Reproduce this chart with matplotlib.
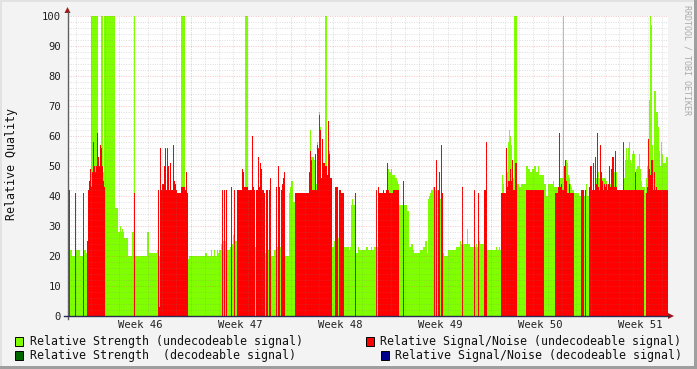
import numpy as np
import matplotlib
matplotlib.use("Agg")
import matplotlib.pyplot as plt
from matplotlib.patches import Rectangle, Polygon
from matplotlib.lines import Line2D

# ---------------- data ----------------
STEP_H = 1.68          # hours per consolidated sample
N_SAMPLES = 600        # samples over the 6-week window
FIRST_WEEK_H = 38.64   # hours from chart start to start of Week 46

# sample index where each constant segment starts
seg_start = [
    0, 2, 4, 7, 8, 12, 15, 16, 18, 19,
    20, 21, 22, 23, 24, 25, 26, 27, 28, 29,
    30, 31, 32, 33, 34, 35, 36, 37, 47, 50,
    52, 53, 54, 55, 56, 60, 64, 66, 67, 79,
    81, 89, 90, 91, 92, 93, 94, 96, 97, 98,
    99, 100, 101, 102, 103, 105, 106, 107, 108, 109,
    113, 117, 118, 119, 120, 121, 137, 139, 143, 144,
    146, 147, 149, 150, 151, 153, 154, 155, 156, 157,
    158, 159, 162, 163, 164, 165, 166, 167, 169, 174,
    175, 176, 177, 180, 184, 185, 186, 187, 188, 190,
    191, 192, 193, 194, 196, 197, 198, 200, 201, 202,
    203, 206, 208, 209, 210, 211, 212, 213, 214, 215,
    216, 217, 221, 222, 223, 225, 227, 241, 242, 243,
    244, 246, 247, 248, 249, 250, 251, 252, 253, 254,
    255, 257, 259, 260, 261, 262, 264, 266, 267, 270,
    271, 273, 276, 281, 282, 283, 284, 285, 287, 288,
    290, 291, 298, 300, 303, 304, 306, 308, 309, 310,
    311, 315, 316, 318, 319, 320, 321, 323, 324, 325,
    327, 329, 330, 331, 335, 336, 339, 341, 343, 345,
    346, 352, 355, 357, 359, 360, 361, 362, 363, 365,
    366, 367, 368, 369, 370, 371, 372, 373, 374, 375,
    376, 380, 388, 392, 393, 394, 395, 399, 400, 402,
    406, 407, 408, 409, 410, 411, 412, 416, 418, 419,
    428, 429, 431, 432, 433, 434, 435, 436, 438, 439,
    440, 441, 442, 443, 444, 445, 446, 447, 449, 451,
    453, 458, 460, 462, 464, 466, 468, 470, 471, 476,
    478, 480, 485, 486, 487, 490, 491, 492, 493, 494,
    495, 496, 497, 498, 499, 500, 501, 502, 503, 504,
    506, 511, 513, 516, 517, 518, 519, 521, 522, 524,
    525, 526, 527, 528, 529, 530, 531, 532, 533, 534,
    535, 536, 537, 538, 539, 540, 541, 542, 543, 544,
    545, 546, 547, 548, 549, 555, 556, 557, 558, 559,
    560, 561, 562, 563, 564, 565, 566, 567, 568, 569,
    571, 572, 573, 574, 576, 577, 578, 579, 580, 581,
    582, 583, 584, 585, 586, 587, 588, 589, 590, 591,
    592, 593, 594, 595, 598]

# Relative Strength (undecodeable signal)
seg_green = [
    20, 22, 20, 20, 22, 20, 20, 22, 21, 23,
    40, 41, 45, 100, 100, 100, 100, 100, 100, 100,
    50, 49, 48, 100, 100, 48, 100, 100, 36, 28,
    30, 28, 29, 28, 26, 20, 28, 100, 20, 28,
    21, 22, 20, 20, 20, 20, 20, 20, 20, 20,
    20, 20, 20, 20, 20, 20, 20, 44, 42, 20,
    100, 20, 20, 20, 19, 20, 21, 20, 22, 20,
    22, 20, 22, 21, 22, 24, 24, 25, 25, 25,
    25, 22, 23, 23, 24, 27, 27, 25, 20, 20,
    20, 20, 100, 20, 20, 20, 20, 23, 20, 20,
    20, 20, 20, 20, 20, 21, 20, 22, 20, 20,
    20, 22, 22, 23, 23, 23, 23, 23, 23, 23,
    23, 20, 41, 43, 45, 38, 38, 48, 62, 53,
    53, 52, 52, 44, 58, 56, 68, 63, 46, 52,
    51, 100, 47, 55, 55, 46, 23, 25, 25, 26,
    26, 26, 23, 22, 23, 37, 39, 37, 37, 21,
    23, 22, 23, 22, 23, 22, 23, 23, 23, 23,
    41, 41, 41, 42, 42, 49, 48, 49, 47, 47,
    46, 45, 44, 37, 37, 37, 35, 23, 24, 22,
    21, 22, 23, 25, 21, 39, 40, 41, 42, 43,
    43, 42, 42, 42, 42, 42, 39, 39, 39, 21,
    20, 22, 23, 25, 24, 24, 24, 29, 24, 23,
    23, 23, 24, 23, 23, 25, 24, 24, 24, 22,
    23, 22, 23, 22, 41, 47, 44, 41, 43, 48,
    58, 62, 60, 57, 52, 46, 100, 100, 44, 43,
    44, 50, 49, 48, 49, 50, 48, 50, 47, 44,
    40, 44, 45, 43, 43, 43, 43, 46, 46, 46,
    100, 46, 52, 52, 51, 47, 46, 44, 43, 42,
    41, 40, 40, 40, 40, 44, 40, 40, 40, 40,
    40, 40, 40, 46, 46, 48, 46, 46, 46, 46,
    46, 46, 46, 45, 44, 44, 44, 44, 44, 48,
    48, 48, 48, 48, 42, 44, 46, 52, 56, 52,
    56, 58, 52, 51, 54, 55, 54, 47, 49, 50,
    54, 49, 45, 43, 43, 41, 46, 50, 58, 72,
    100, 97, 57, 52, 75, 75, 68, 68, 63, 55,
    50, 58, 54, 51, 53]

# Relative Signal/Noise (undecodeable signal)
seg_red = [
    42, 0, 0, 41, 0, 0, 41, 0, 0, 25,
    42, 45, 49, 43, 48, 58, 50, 48, 50, 61,
    53, 50, 57, 56, 50, 45, 43, 0, 0, 0,
    0, 0, 0, 0, 0, 0, 0, 41, 0, 0,
    0, 0, 42, 3, 56, 42, 44, 50, 56, 42,
    56, 50, 42, 51, 42, 57, 45, 44, 42, 41,
    43, 42, 48, 41, 0, 0, 0, 0, 0, 0,
    0, 0, 0, 0, 0, 0, 42, 0, 42, 0,
    42, 0, 0, 43, 0, 0, 42, 0, 42, 49,
    48, 43, 43, 42, 60, 43, 42, 0, 42, 53,
    43, 51, 49, 42, 41, 0, 42, 0, 42, 46,
    0, 0, 43, 0, 50, 43, 0, 42, 44, 46,
    48, 0, 0, 0, 0, 0, 41, 48, 55, 52,
    42, 42, 54, 42, 57, 56, 67, 62, 46, 59,
    51, 50, 47, 65, 54, 46, 0, 0, 43, 0,
    42, 41, 0, 0, 0, 0, 0, 0, 41, 0,
    0, 0, 0, 0, 0, 0, 0, 42, 0, 43,
    41, 42, 41, 42, 51, 42, 41, 41, 41, 42,
    42, 42, 42, 0, 45, 0, 0, 0, 0, 0,
    0, 0, 0, 0, 0, 0, 0, 0, 0, 0,
    43, 0, 52, 0, 42, 48, 0, 57, 41, 0,
    0, 0, 0, 0, 0, 43, 0, 0, 0, 0,
    42, 0, 0, 0, 41, 0, 0, 42, 58, 0,
    0, 0, 0, 0, 41, 41, 41, 41, 56, 43,
    45, 45, 49, 45, 52, 42, 42, 51, 0, 0,
    0, 42, 42, 42, 42, 42, 42, 42, 42, 0,
    0, 0, 0, 0, 41, 43, 61, 43, 44, 42,
    42, 50, 52, 45, 41, 41, 44, 41, 41, 41,
    0, 0, 42, 0, 42, 0, 0, 43, 50, 42,
    51, 42, 53, 44, 61, 43, 42, 57, 48, 45,
    42, 44, 43, 44, 42, 44, 50, 43, 49, 53,
    53, 43, 55, 43, 42, 58, 42, 42, 42, 42,
    42, 42, 42, 42, 42, 42, 42, 48, 42, 42,
    42, 42, 42, 42, 0, 0, 41, 43, 59, 49,
    47, 52, 52, 42, 48, 42, 43, 42, 42, 42,
    42, 42, 42, 42, 42]

week_labels = ["Week 46", "Week 47", "Week 48", "Week 49", "Week 50", "Week 51"]
y_ticks = [0, 10, 20, 30, 40, 50, 60, 70, 80, 90, 100]

legend_labels = ["Relative Strength (undecodeable signal)",
                 "Relative Signal/Noise (undecodeable signal)",
                 "Relative Strength  (decodeable signal)",
                 "Relative Signal/Noise (decodeable signal)"]
legend_colors = ["#80FF00", "#FF0000", "#006600", "#00008C"]

# ---------------- figure ----------------
W, H = 697, 369
fig = plt.figure(figsize=(W / 100, H / 100), dpi=100, facecolor="#F3F3F3")
MONO = "DejaVu Sans Mono"


def fx(x):
    return x / W


def fy(y):
    return 1 - y / H


ax = fig.add_axes([fx(67.5), fy(315.5), 600 / W, 300 / H])
ax.set_facecolor("white")

n = min(len(seg_start), len(seg_green), len(seg_red))
starts = np.array(seg_start[:n])
lens = np.diff(np.append(starts, N_SAMPLES))
green = np.repeat(np.array(seg_green[:n], float), lens)
red = np.repeat(np.array(seg_red[:n], float), lens)
edges = np.arange(N_SAMPLES + 1) * STEP_H

ax.fill_between(edges, np.append(green, green[-1]), step="post", color="#80FF00",
                lw=0, zorder=1, antialiased=False)
ax.fill_between(edges, np.append(red, red[-1]), step="post", color="#FF0000",
                lw=0, zorder=1.5, antialiased=False)

x_max = N_SAMPLES * STEP_H
ax.set_xlim(0, x_max)
ax.set_ylim(0, 100)

# grid (drawn over the data, rrdtool style)
minor_c = (0.50, 0.50, 0.50, 0.26)
major_c = (0.87, 0.31, 0.31, 0.32)
for v in range(2, 101, 2):
    ax.axhline(v, color=major_c if v % 10 == 0 else minor_c, lw=0.72,
               ls=(0, (1, 1.4)), zorder=3)
k = -1
while True:
    t = FIRST_WEEK_H + 24 * k
    if t >= x_max:
        break
    if t > 0:
        ax.axvline(t, color=major_c if k % 7 == 0 else minor_c, lw=0.72,
                   ls=(0, (1, 1.4)), zorder=3)
    k += 1

for s in ax.spines.values():
    s.set_visible(False)

week_mid = [FIRST_WEEK_H + 84 + 168 * i for i in range(len(week_labels))]
ax.set_xticks(week_mid)
ax.set_xticklabels(week_labels, fontfamily=MONO, fontsize=7.6)
ax.set_yticks(y_ticks)
ax.set_yticklabels([str(v) for v in y_ticks], fontfamily=MONO, fontsize=7.6)
ax.tick_params(axis="both", length=0, colors="#202020")
ax.tick_params(axis="x", pad=3.2)
ax.tick_params(axis="y", pad=4.6)

# axes lines and arrows
fig.add_artist(Line2D([fx(67.5), fx(67.5)], [fy(319), fy(12)], color="#606060", lw=1.0))
fig.add_artist(Line2D([fx(64), fx(669)], [fy(316), fy(316)], color="#2a2a55", lw=1.0))
fig.add_artist(Polygon([[fx(64.5), fy(13)], [fx(70.5), fy(13)], [fx(67.5), fy(7)]],
                       closed=True, color="#A01818", lw=0))
fig.add_artist(Polygon([[fx(668), fy(313)], [fx(668), fy(319)], [fx(674), fy(316)]],
                       closed=True, color="#A01818", lw=0))

# y axis title and watermark
fig.text(fx(12), fy(164), "Relative Quality", rotation=90, ha="center", va="center",
         fontfamily=MONO, fontsize=8.4, color="#111111")
fig.text(fx(687), fy(60), "RRDTOOL / TOBI OETIKER", rotation=270, ha="center",
         va="center", fontfamily=MONO, fontsize=6.0, color="#AAAAAA")

# legend
leg_pos = [(15, 30, 341), (366, 380, 341), (15, 30, 355), (381, 395, 355)]
for label, col, (bx, tx, cy) in zip(legend_labels, legend_colors, leg_pos):
    fig.add_artist(Rectangle((fx(bx), fy(cy + 4.5)), 8 / W, 9 / H, facecolor=col,
                             edgecolor="black", lw=0.7))
    fig.text(fx(tx), fy(cy), label, ha="left", va="center", fontfamily=MONO,
             fontsize=8.35, color="#111111")

# 3D-style frame
fig.add_artist(Rectangle((0, fy(2)), 1, 2 / H, facecolor="#E2E2E2", lw=0))
fig.add_artist(Rectangle((0, 0), 2 / W, 1, facecolor="#E2E2E2", lw=0))
fig.add_artist(Rectangle((0, 0), 1, 3 / H, facecolor="#9E9E9E", lw=0))
fig.add_artist(Rectangle((fx(694), 0), 3 / W, 1, facecolor="#9E9E9E", lw=0))

fig.savefig("out.png", dpi=100, facecolor=fig.get_facecolor())
